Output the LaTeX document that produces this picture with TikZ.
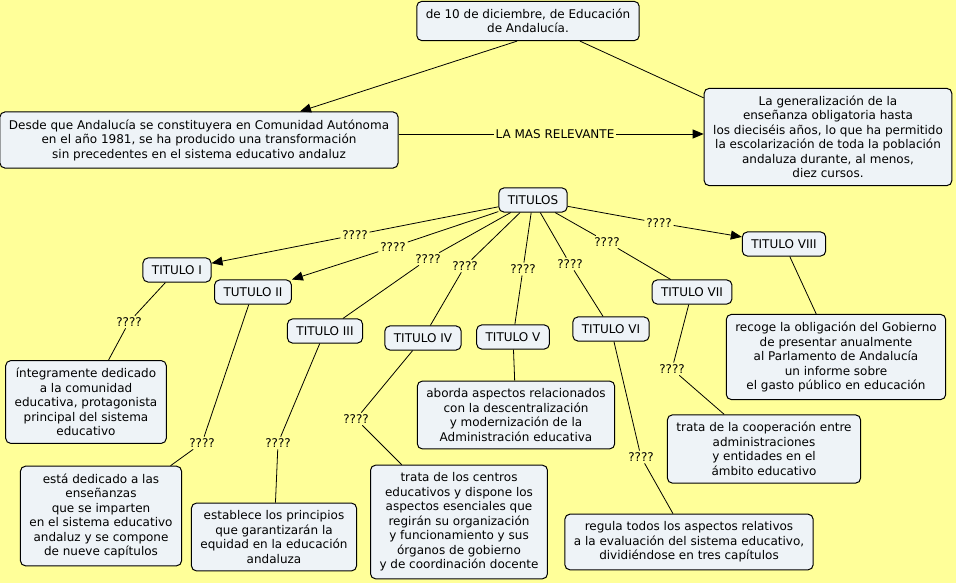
\documentclass[tikz,border=0pt]{standalone}
\usepackage{fontspec}
\setmainfont{DejaVu Sans}
\usetikzlibrary{arrows.meta}
\definecolor{mapbg}{HTML}{FFFF99}
\definecolor{boxfill}{HTML}{EEF3F7}

\begin{document}
\begin{tikzpicture}[x=1pt, y=-1pt, >={Triangle[length=11pt,width=9pt]},
  every node/.style={font=\fontsize{12}{14.5}\selectfont},
  every path/.style={line width=0.8pt},
  concept/.style={draw, fill=boxfill, rounded corners=5pt, align=center, inner xsep=9pt, inner ysep=7.5pt, line width=1pt},
  link/.style={fill=mapbg, inner sep=1.5pt}]
\fill[mapbg] (0,0) rectangle (956,583);
\useasboundingbox (0,0) rectangle (956,583);
% upper part
\node[concept] (ley) at (528,21) {de 10 de diciembre, de Educación\\de Andalucía.};
\node[concept] (desde) at (199,140) {Desde que Andalucía se constituyera en Comunidad Autónoma\\en el año 1981, se ha producido una transformación\\sin precedentes en el sistema educativo andaluz};
\node[concept] (general) at (828,137) {La generalización de la\\enseñanza obligatoria hasta\\los dieciséis años, lo que ha permitido\\la escolarización de toda la población\\andaluza durante, al menos,\\diez cursos.};
\node[link] (rel) at (555,134) {LA MAS RELEVANTE};
\draw[->] ([xshift=-11pt]ley.south) -- ([xshift=101pt]desde.north);
\draw ([xshift=52pt]ley.south) -- ([yshift=-10pt]general.north west);
\draw (desde.east |- rel) -- (rel);
\draw[->] (rel) -- (general.west |- rel);
% titulos
\node[concept] (titulos) at (533,200) {TITULOS};
\node[concept] (t1) at (177,270) {TITULO I};
\node[concept] (t2) at (253,292) {TUTULO II};
\node[concept] (t3) at (325,331) {TITULO III};
\node[concept] (t4) at (423,338) {TITULO IV};
\node[concept] (t5) at (513,337) {TITULO V};
\node[concept] (t6) at (611,329) {TITULO VI};
\node[concept] (t7) at (692,292) {TITULO VII};
\node[concept] (t8) at (784,244) {TITULO VIII};
\node[link] (q1) at (355,235) {????};
\node[link] (q2) at (393,247) {????};
\node[link] (q3) at (428,259) {????};
\node[link] (q4) at (465,266) {????};
\node[link] (q5) at (523,269) {????};
\node[link] (q6) at (570,264) {????};
\node[link] (q7) at (607,242) {????};
\node[link] (q8) at (659,223) {????};
\foreach \q/\t/\tip in {q1/t1/->, q2/t2/->, q3/t3/-, q4/t4/-, q5/t5/-, q6/t6/-, q7/t7/-, q8/t8/->} {
  \draw (titulos) -- (\q);
  \draw[\tip] (\q) -- (\t);
}
% descriptions
\node[concept] (d1) at (86,402) {íntegramente dedicado\\a la comunidad\\educativa, protagonista\\principal del sistema\\educativo};
\node[concept] (d2) at (101,516) {está dedicado a las\\enseñanzas\\que se imparten\\en el sistema educativo\\andaluz y se compone\\de nueve capítulos};
\node[concept] (d3) at (274,537) {establece los principios\\que garantizarán la\\equidad en la educación\\andaluza};
\node[concept] (d4) at (459,522) {trata de los centros\\educativos y dispone los\\aspectos esenciales que\\regirán su organización\\y funcionamiento y sus\\órganos de gobierno\\y de coordinación docente};
\node[concept] (d5) at (516,415) {aborda aspectos relacionados\\con la descentralización\\y modernización de la\\Administración educativa};
\node[concept] (d6) at (689,542) {regula todos los aspectos relativos\\a la evaluación del sistema educativo,\\dividiéndose en tres capítulos};
\node[concept] (d7) at (764,449) {trata de la cooperación entre\\administraciones\\y entidades en el\\ámbito educativo};
\node[concept] (d8) at (836,357) {recoge la obligación del Gobierno\\de presentar anualmente\\al Parlamento de Andalucía\\un informe sobre\\el gasto público en educación};
\node[link] (p1) at (129,322) {????};
\node[link] (p2) at (202,443) {????};
\node[link] (p3) at (278,443) {????};
\node[link] (p4) at (356,419) {????};
\node[link] (p6) at (641,457) {????};
\node[link] (p7) at (672,369) {????};
\foreach \t/\p/\d in {t1/p1/d1, t2/p2/d2, t3/p3/d3, t4/p4/d4, t6/p6/d6, t7/p7/d7} {
  \draw (\t) -- (\p);
  \draw (\p) -- (\d);
}
\draw (t5) -- (d5);
\draw (t8) -- (d8);
\end{tikzpicture}
\end{document}
